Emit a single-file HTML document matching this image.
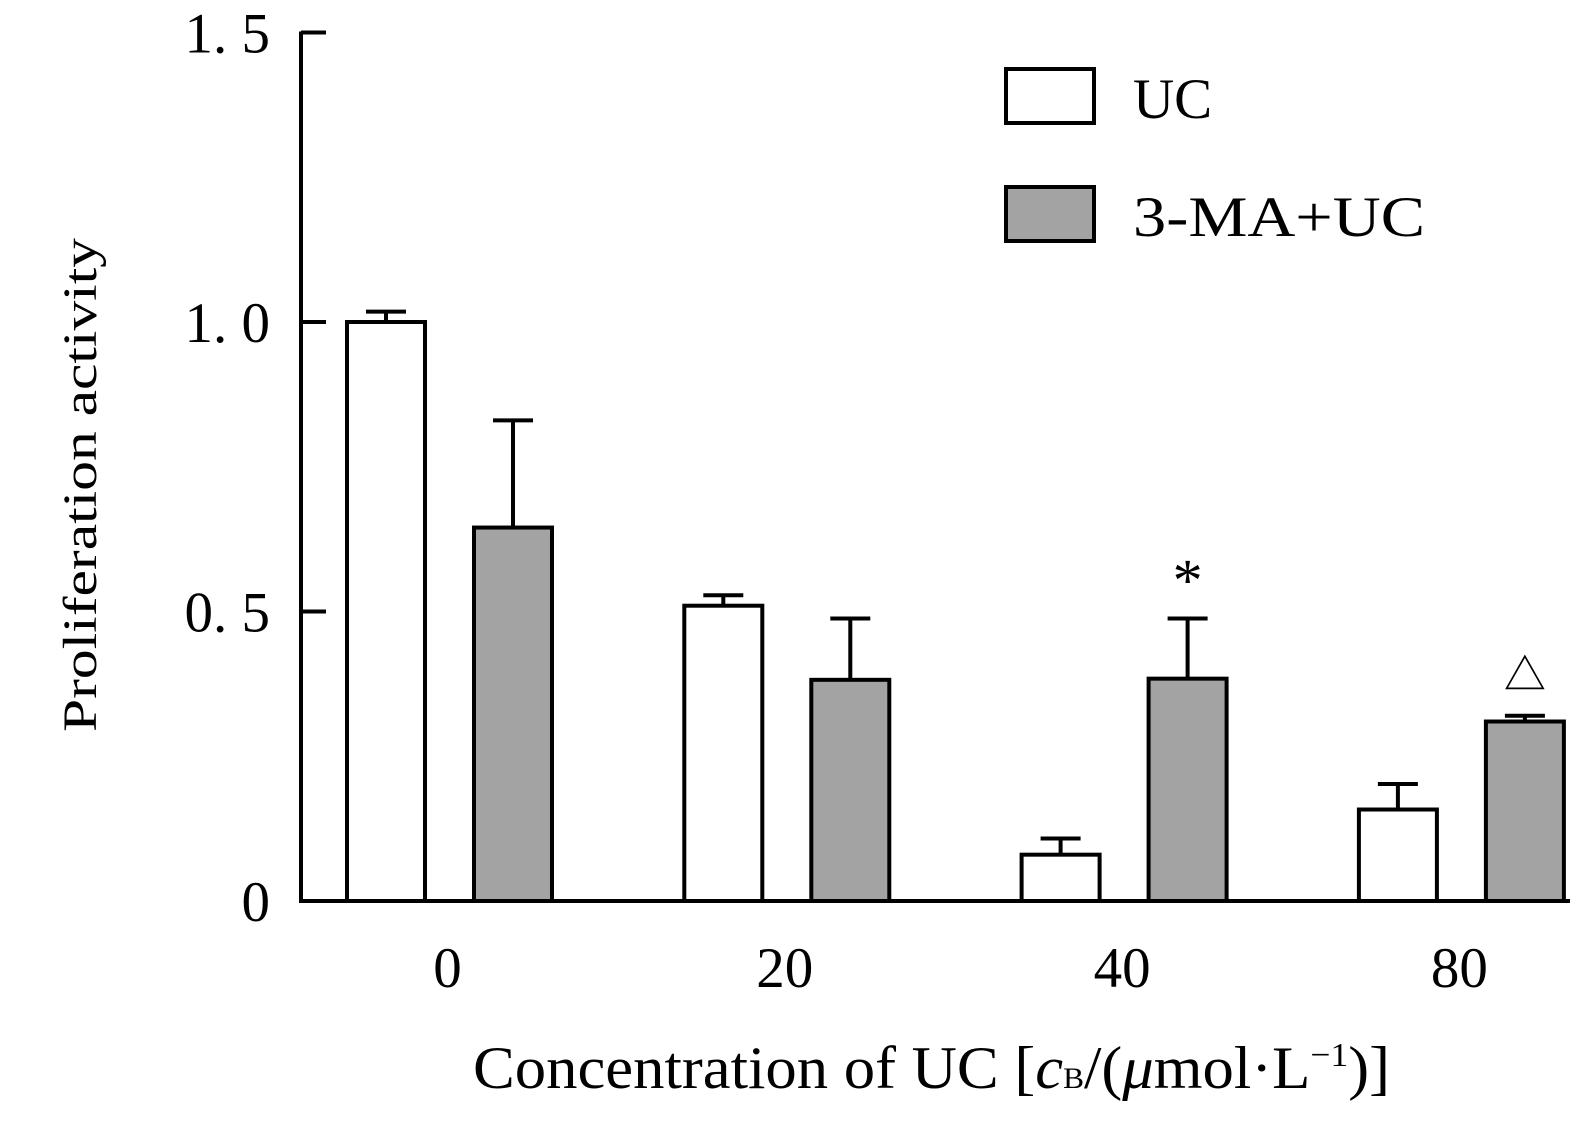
<!DOCTYPE html>
<html><head><meta charset="utf-8"><style>
html,body{margin:0;padding:0;background:#fff;}
svg{display:block;font-family:"Liberation Serif","Noto Serif CJK SC",serif;}
</style></head><body>
<svg id="chart" width="1581" height="1138" viewBox="0 0 1581 1138" xmlns="http://www.w3.org/2000/svg">
<g id="axes"></g>
<g id="bars"></g>
<g>
  <rect x="1006" y="69" width="88" height="54" fill="#fff" stroke="#000" stroke-width="4"/>
  <text x="1133" y="118" font-size="57">UC</text>
  <rect x="1006" y="187" width="88" height="54" fill="#a3a3a3" stroke="#000" stroke-width="4"/>
  <text x="1133" y="236" font-size="57" textLength="292" lengthAdjust="spacingAndGlyphs">3-MA+UC</text>
</g>
<text transform="translate(96,485) rotate(-90)" text-anchor="middle" font-size="48" textLength="494" lengthAdjust="spacingAndGlyphs">Proliferation activity</text>
<text x="473" y="1088" font-size="60" textLength="917" lengthAdjust="spacingAndGlyphs">Concentration of UC [<tspan font-style="italic">c</tspan><tspan font-size="30">B</tspan>/(<tspan font-style="italic">μ</tspan>mol·L<tspan font-size="34" dy="-22">−1</tspan><tspan dy="22">)]</tspan></text>
</svg>
<script>
const categories = ["0", "20", "40", "80"];
const ucValues = [1.0, 0.51, 0.08, 0.158];
const ucErrors = [0.018, 0.018, 0.028, 0.044];
const maValues = [0.645, 0.382, 0.384, 0.31];
const maErrors = [0.185, 0.106, 0.104, 0.01];
const yTicks = [0, 0.5, 1.0, 1.5];
const yTickLabels = ["0", "0. 5", "1. 0", "1. 5"];
const marks = ["", "", "*", "△"];

const NS = "http://www.w3.org/2000/svg";
const baseY = 901, pxPerUnit = 579;
function yScale(v){ return baseY - v * pxPerUnit; }
function xGroup(i){ return 345 + i * 337.3; }
const barW = 82, grayOff = 127;
function mk(tag, attrs, parent){ const e = document.createElementNS(NS, tag); for (const k in attrs) e.setAttribute(k, attrs[k]); parent.appendChild(e); return e; }

const axes = document.getElementById('axes');
const yAxis = mk('line', {x1:301, y1:yScale(1.5)-1, x2:301, y2:baseY+2, stroke:'#000','stroke-width':4}, axes);


const xAxis = mk('line', {x1:299, y1:baseY, x2:1570, y2:baseY, stroke:'#000','stroke-width':4}, axes);


yTicks.forEach((t, i) => {
  if (t > 0) {
    const tk = mk('line', {x1:301, y1:yScale(t), x2:326, y2:yScale(t), stroke:'#000','stroke-width':4}, axes);
    
    
  }
  const lb = mk('text', {x:270, y:yScale(t)+20, 'text-anchor':'end', 'font-size':57}, axes);
  lb.textContent = yTickLabels[i];
  
  
});

const bars = document.getElementById('bars');
function drawBar(x, v, err, fill, name){
  const top = yScale(v);
  const eTop = yScale(v + err);
  const cx = x + barW/2;
  const el = mk('line', {x1:cx, y1:top, x2:cx, y2:eTop, stroke:'#000','stroke-width':4}, bars);
  
  
  const cap = mk('line', {x1:cx-20, y1:eTop, x2:cx+20, y2:eTop, stroke:'#000','stroke-width':4}, bars);
  
  
  const r = mk('rect', {x:x+2, y:top, width:barW-4, height:baseY-top, fill:fill, stroke:'#000','stroke-width':4}, bars);
  
  
}
categories.forEach((c, i) => {
  const x = xGroup(i);
  drawBar(x, ucValues[i], ucErrors[i], '#fff', 'bar-uc-' + c);
  drawBar(x + grayOff, maValues[i], maErrors[i], '#a3a3a3', 'bar-3ma-uc-' + c);
  const lb = mk('text', {x:x + (grayOff+barW)/2 - 2, y:987, 'text-anchor':'middle', 'font-size':57}, bars);
  lb.textContent = c;
  
  
  if (marks[i]) {
    const m = mk('text', {x:x + grayOff + barW/2, y:yScale(maValues[i] + maErrors[i]) - (marks[i] === '*' ? 18 : 26), 'text-anchor':'middle', 'font-size': marks[i] === '*' ? 60 : 42}, bars);
    m.textContent = marks[i];
    
    
  }
});
</script>
</body></html>
